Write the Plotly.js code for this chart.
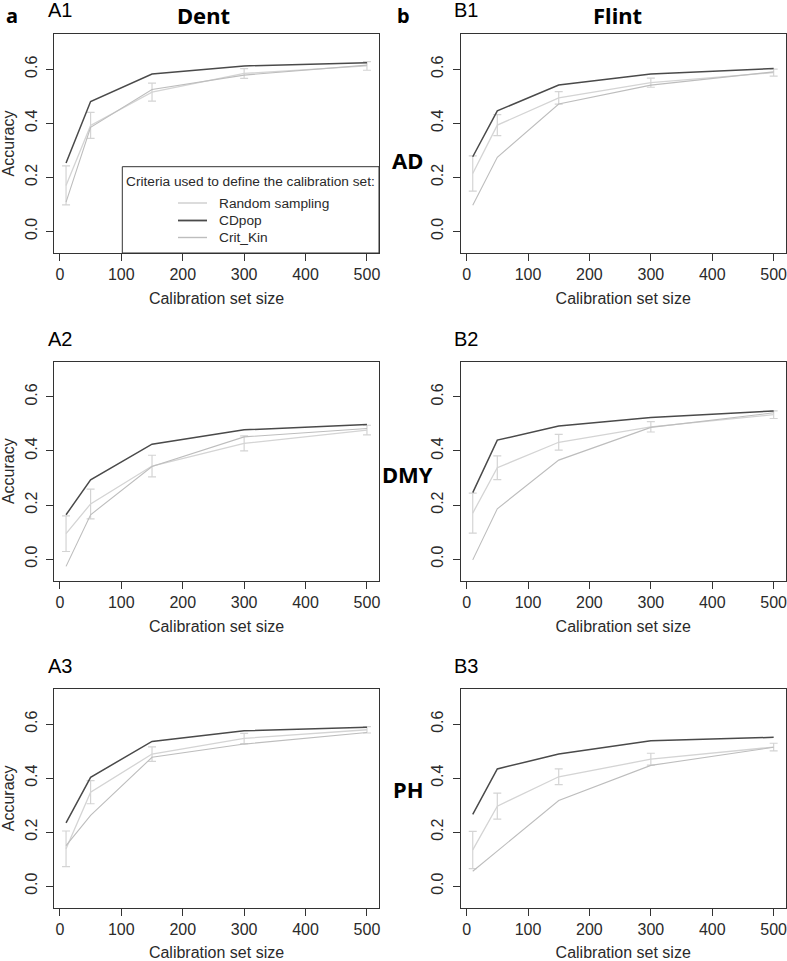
<!DOCTYPE html>
<html><head><meta charset="utf-8">
<script src="https://cdn.plot.ly/plotly-3.0.1.min.js"></script>
<style>html,body{margin:0;padding:0;background:#fff}#chart{width:787px;height:961px}</style>
</head><body><div id="chart"></div>
<script>
// ---------- DATA ----------
const calibrationSizes = [10, 50, 150, 300, 500];
const panelNames = ['A1', 'B1', 'A2', 'B2', 'A3', 'B3'];
const seriesNames = ['Random sampling', 'CDpop', 'Crit_Kin'];
const legendTitle = 'Criteria used to define the calibration set:';
const xTickVals = [0, 100, 200, 300, 400, 500];
const yTickVals = [0, 0.2, 0.4, 0.6];
const yTickText = ['0.0', '0.2', '0.4', '0.6'];

// A1 - Dent, AD
const randomA1 = [0.170, 0.392, 0.515, 0.584, 0.612];
const randomErrA1 = [0.072, 0.048, 0.033, 0.018, 0.016];
const cdpopA1 = [0.253, 0.480, 0.582, 0.612, 0.624];
const critKinA1 = [0.108, 0.385, 0.525, 0.578, 0.615];
// B1 - Flint, AD
const randomB1 = [0.214, 0.393, 0.494, 0.550, 0.587];
const randomErrB1 = [0.065, 0.039, 0.023, 0.017, 0.013];
const cdpopB1 = [0.276, 0.446, 0.541, 0.582, 0.602];
const critKinB1 = [0.097, 0.274, 0.471, 0.541, 0.590];
// A2 - Dent, DMY
const randomA2 = [0.094, 0.204, 0.344, 0.428, 0.477];
const randomErrA2 = [0.066, 0.055, 0.040, 0.028, 0.018];
const cdpopA2 = [0.164, 0.293, 0.425, 0.478, 0.498];
const critKinA2 = [-0.027, 0.164, 0.342, 0.452, 0.483];
// B2 - Flint, DMY
const randomB2 = [0.170, 0.338, 0.432, 0.489, 0.534];
const randomErrB2 = [0.074, 0.044, 0.029, 0.019, 0.014];
const cdpopB2 = [0.246, 0.440, 0.492, 0.524, 0.548];
const critKinB2 = [-0.003, 0.186, 0.366, 0.487, 0.541];
// A3 - Dent, PH
const randomA3 = [0.138, 0.348, 0.489, 0.547, 0.579];
const randomErrA3 = [0.066, 0.043, 0.027, 0.019, 0.012];
const cdpopA3 = [0.234, 0.403, 0.536, 0.575, 0.588];
const critKinA3 = [0.150, 0.262, 0.477, 0.526, 0.569];
// B3 - Flint, PH
const randomB3 = [0.134, 0.296, 0.405, 0.470, 0.515];
const randomErrB3 = [0.069, 0.048, 0.029, 0.022, 0.014];
const cdpopB3 = [0.266, 0.434, 0.489, 0.538, 0.551];
const critKinB3 = [0.055, 0.130, 0.317, 0.447, 0.514];

const panels = [
  {random: randomA1, err: randomErrA1, cdpop: cdpopA1, crit: critKinA1},
  {random: randomB1, err: randomErrB1, cdpop: cdpopB1, crit: critKinB1},
  {random: randomA2, err: randomErrA2, cdpop: cdpopA2, crit: critKinA2},
  {random: randomB2, err: randomErrB2, cdpop: cdpopB2, crit: critKinB2},
  {random: randomA3, err: randomErrA3, cdpop: cdpopA3, crit: critKinA3},
  {random: randomB3, err: randomErrB3, cdpop: cdpopB3, crit: critKinB3}
];

// ---------- STYLE / LAYOUT ----------
const W = 787, H = 961;
const px = v => v / W;
const py = v => 1 - v / H;
const FONT = 'Liberation Sans, Arial, sans-serif';
const BOLD = 'Noto Sans, Open Sans, sans-serif';
const TXT = '#2a2a2a';
const colRandom = '#d4d4d4', colCD = '#4a4a4a', colCrit = '#bdbdbd';
const seriesColors = [colRandom, colCD, colCrit];
const seriesWidths = [1.3, 1.5, 1.1];

const colX = [[54, 379], [460.7, 785.7]];
const rowY = [[34, 253], [361.7, 580.7], [689, 907.7]];

const traces = [];
const layout = {
  width: W, height: H,
  margin: {l: 0, r: 0, t: 0, b: 0},
  paper_bgcolor: '#fff', plot_bgcolor: '#fff',
  font: {family: FONT, color: TXT, size: 16},
  showlegend: false,
  shapes: [],
  annotations: []
};

panels.forEach((p, i) => {
  const col = i % 2, row = Math.floor(i / 2);
  const n = i + 1;
  const xa = 'x' + (n === 1 ? '' : n), ya = 'y' + (n === 1 ? '' : n);
  const xKey = 'xaxis' + (n === 1 ? '' : n), yKey = 'yaxis' + (n === 1 ? '' : n);
  traces.push({
    x: calibrationSizes, y: p.random, xaxis: xa, yaxis: ya, type: 'scatter', mode: 'lines',
    name: seriesNames[0], line: {color: colRandom, width: seriesWidths[0]},
    error_y: {type: 'data', array: p.err, visible: true, color: colRandom, thickness: 1.2, width: 4}
  });
  traces.push({
    x: calibrationSizes, y: p.cdpop, xaxis: xa, yaxis: ya, type: 'scatter', mode: 'lines',
    name: seriesNames[1], line: {color: colCD, width: seriesWidths[1]}
  });
  traces.push({
    x: calibrationSizes, y: p.crit, xaxis: xa, yaxis: ya, type: 'scatter', mode: 'lines',
    name: seriesNames[2], line: {color: colCrit, width: seriesWidths[2]}
  });
  layout[xKey] = {
    domain: [px(colX[col][0]), px(colX[col][1])], anchor: ya,
    range: [-9.6, 519.6], tickvals: xTickVals, ticks: 'outside', ticklen: 7, tickcolor: '#333',
    showline: true, mirror: true, linecolor: '#333', linewidth: 1,
    showgrid: false, zeroline: false, fixedrange: true, ticklabeloverflow: 'allow',
    tickfont: {family: FONT, size: 16, color: TXT},
    title: {text: 'Calibration set size', font: {family: FONT, size: 16, color: TXT}, standoff: 10}
  };
  layout[yKey] = {
    domain: [py(rowY[row][1]), py(rowY[row][0])], anchor: xa,
    range: [-0.08, 0.73], tickvals: yTickVals, ticktext: yTickText, tickangle: -90,
    ticks: 'outside', ticklen: 7, tickcolor: '#333', ticklabelstandoff: 3,
    showline: true, mirror: true, linecolor: '#333', linewidth: 1,
    showgrid: false, zeroline: false, fixedrange: true, ticklabeloverflow: 'allow',
    tickfont: {family: FONT, size: 16, color: TXT},
    title: col === 0 ? {text: 'Accuracy', font: {family: FONT, size: 16, color: TXT}, standoff: 6} : {text: ''}
  };
});

// ---------- legend (R-style box inside panel A1) ----------
layout.shapes.push({type: 'rect', xref: 'paper', yref: 'paper',
  x0: px(122.3), x1: px(379), y0: py(253), y1: py(166.7),
  line: {color: '#333', width: 1}, fillcolor: 'rgba(255,255,255,0)', layer: 'above'});
layout.annotations.push({text: legendTitle, xref: 'paper', yref: 'paper', x: px(124), y: py(181.5),
  xanchor: 'left', yanchor: 'middle', showarrow: false, font: {family: FONT, size: 13.7, color: TXT}});
const legendRows = [203, 220.5, 237.5];
seriesNames.forEach((s, k) => {
  layout.shapes.push({type: 'line', xref: 'paper', yref: 'paper',
    x0: px(178), x1: px(207), y0: py(legendRows[k]), y1: py(legendRows[k]),
    line: {color: seriesColors[k], width: seriesWidths[k] + 0.3}});
  layout.annotations.push({text: s, xref: 'paper', yref: 'paper', x: px(216.5), y: py(legendRows[k]),
    xanchor: 'left', yanchor: 'middle', showarrow: false, font: {family: FONT, size: 13.7, color: TXT}});
});

function ann(text, x, y, size, bold) {
  layout.annotations.push({
    text: bold ? '<b>' + text + '</b>' : text, xref: 'paper', yref: 'paper',
    x: px(x), y: py(y), xanchor: 'center', yanchor: 'middle', showarrow: false,
    font: {family: bold ? BOLD : FONT, size: size, color: '#000'}
  });
}
ann('a', 12, 15, 20, true);
ann('b', 404, 15, 20, true);
ann('Dent', 203, 15, 22, true);
ann('Flint', 617, 15, 22, true);
ann('AD', 407, 160, 22, true);
ann('DMY', 407, 474, 22, true);
ann('PH', 408, 789, 22, true);
ann(panelNames[0], 60, 10, 20, false);
ann(panelNames[1], 466, 10, 20, false);
ann(panelNames[2], 60, 339, 20, false);
ann(panelNames[3], 466, 339, 20, false);
ann(panelNames[4], 60, 666, 20, false);
ann(panelNames[5], 466, 666, 20, false);

Plotly.newPlot('chart', traces, layout, {staticPlot: true, displayModeBar: false});
</script>
</body></html>
